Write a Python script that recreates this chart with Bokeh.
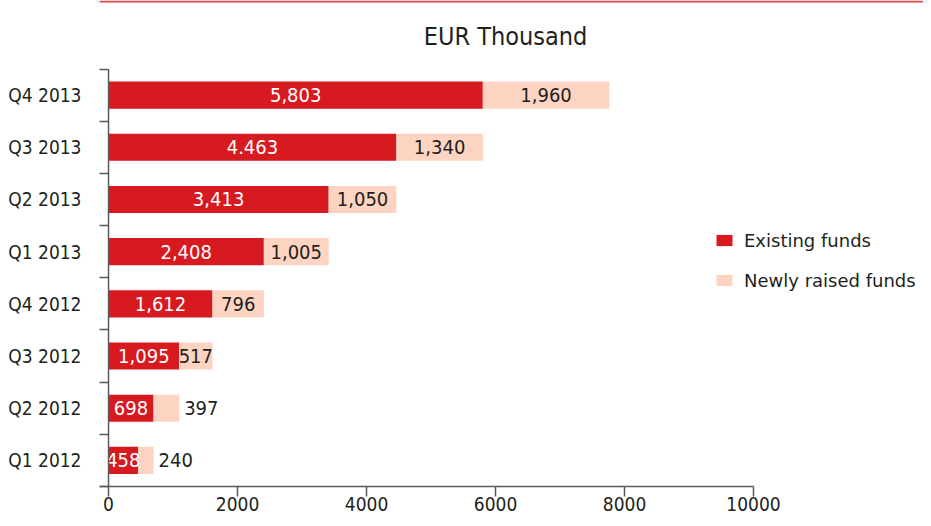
from bokeh.plotting import figure
from bokeh.models import (ColumnDataSource, FixedTicker, Legend, LegendItem, Label,
                          BoxAnnotation)
from bokeh.core.properties import value
from bokeh.embed import file_html
from bokeh.resources import INLINE

categories = ["Q1 2012", "Q2 2012", "Q3 2012", "Q4 2012",
              "Q1 2013", "Q2 2013", "Q3 2013", "Q4 2013"]
existing = [458, 698, 1095, 1612, 2408, 3413, 4463, 5803]
newly = [240, 397, 517, 796, 1005, 1050, 1340, 1960]
existing_labels = ["458", "698", "1,095", "1,612", "2,408", "3,413", "4.463", "5,803"]
newly_labels = ["240", "397", "517", "796", "1,005", "1,050", "1,340", "1,960"]
x_ticks = [0, 2000, 4000, 6000, 8000, 10000]

RED = "#D71920"
PINK = "#FCD4C1"
DARK = "#231F20"
AXIS = "#5A5A5A"
FONT = "DejaVu Sans Condensed"

n_cat = len(categories)
ypos = [i + 0.5 for i in range(n_cat)]
totals = [e + n for e, n in zip(existing, newly)]
inside = [n >= 500 for n in newly]
x_max = x_ticks[-1]

# plot geometry (pixels)
W, H = 923, 518
LEFT = 99
BOTTOM = 30
TOP_GAP = 68.5          # pixels from canvas top to the top category boundary
PX_PER_CAT = (H - BOTTOM - 2 - TOP_GAP) / 8
PX_PER_UNIT = 0.0645
X_START = -140
X_END = X_START + (W - LEFT) / PX_PER_UNIT
Y_START = -2 / PX_PER_CAT
Y_END = n_cat + TOP_GAP / PX_PER_CAT

src = ColumnDataSource(dict(
    y=ypos, existing=existing, total=totals,
    ex_mid=[e / 2 for e in existing], ex_lab=existing_labels,
))
new_in = ColumnDataSource(dict(
    x=[e + n / 2 for e, n, k in zip(existing, newly, inside) if k],
    y=[y for y, k in zip(ypos, inside) if k],
    t=[l for l, k in zip(newly_labels, inside) if k],
))
new_out = ColumnDataSource(dict(
    x=[t for t, k in zip(totals, inside) if not k],
    y=[y for y, k in zip(ypos, inside) if not k],
    t=[l for l, k in zip(newly_labels, inside) if not k],
))

p = figure(width=W, height=H, output_backend="svg", toolbar_location=None,
           x_range=(X_START, X_END), y_range=(Y_START, Y_END),
           min_border_left=LEFT, min_border_right=0, min_border_top=0,
           min_border_bottom=BOTTOM)
p.grid.visible = False
p.outline_line_color = None
p.background_fill_color = "white"
p.border_fill_color = "white"

# thin red rule along the top
p.add_layout(BoxAnnotation(left=X_START, right=X_END, top=Y_END,
                           bottom=Y_END - 2 / PX_PER_CAT,
                           fill_color="#E0474F", fill_alpha=1, line_color=None))

r1 = p.hbar(y="y", left=0, right="existing", height=0.52, source=src,
            fill_color=RED, line_color=None)
r2 = p.hbar(y="y", left="existing", right="total", height=0.52, source=src,
            fill_color=PINK, line_color=None)

p.text(x="ex_mid", y="y", text="ex_lab", source=src, text_color="white",
       text_font=value(FONT), text_font_size="20px", text_align="center",
       text_baseline="middle")
p.text(x="x", y="y", text="t", source=new_in, text_color=DARK,
       text_font=value(FONT), text_font_size="20px", text_align="center",
       text_baseline="middle")
p.text(x="x", y="y", text="t", source=new_out, text_color=DARK,
       text_font=value(FONT), text_font_size="20px", text_align="left",
       text_baseline="middle", x_offset=5)

# axis lines (limited to the data extent)
p.segment(x0=[0, X_START], y0=[0, 0], x1=[0, x_max], y1=[n_cat, 0],
          line_color=AXIS, line_width=1.5)

# y axis: labels at category centres, ticks at category boundaries
yax = p.yaxis[0]
yax.ticker = FixedTicker(ticks=ypos, minor_ticks=list(range(n_cat + 1)))
yax.major_label_overrides = {y: c for y, c in zip(ypos, categories)}
yax.axis_line_color = None
yax.major_tick_line_color = None
yax.minor_tick_line_color = AXIS
yax.minor_tick_line_width = 1.5
yax.minor_tick_in = 9
yax.minor_tick_out = 0
yax.major_label_standoff = 12
yax.major_label_text_font = FONT
yax.major_label_text_font_size = "19px"
yax.major_label_text_color = DARK

xax = p.xaxis[0]
xax.ticker = FixedTicker(ticks=x_ticks)
xax.axis_line_color = None
xax.major_tick_line_color = AXIS
xax.major_tick_line_width = 1.5
xax.major_tick_in = 2
xax.major_tick_out = 8
xax.minor_tick_line_color = None
xax.major_label_standoff = 0
xax.major_label_text_font = FONT
xax.major_label_text_font_size = "19px"
xax.major_label_text_color = DARK

# title
p.add_layout(Label(x=6155, y=n_cat + (TOP_GAP - 36) / PX_PER_CAT,
                   text="EUR Thousand", text_font=FONT,
                   text_font_size="25px", text_color=DARK,
                   text_align="center", text_baseline="alphabetic"))

legend = Legend(items=[LegendItem(label="Existing funds", renderers=[r1]),
                       LegendItem(label="Newly raised funds", renderers=[r2])],
                location=(615, 197), orientation="vertical",
                padding=0, margin=0, spacing=18, border_line_alpha=0,
                background_fill_alpha=0, glyph_width=20, glyph_height=14,
                label_height=22, label_standoff=10,
                label_text_font="DejaVu Sans", label_text_font_size="18px",
                label_text_color=DARK)
p.add_layout(legend)

open("out.html", "w").write(file_html(p, INLINE))
